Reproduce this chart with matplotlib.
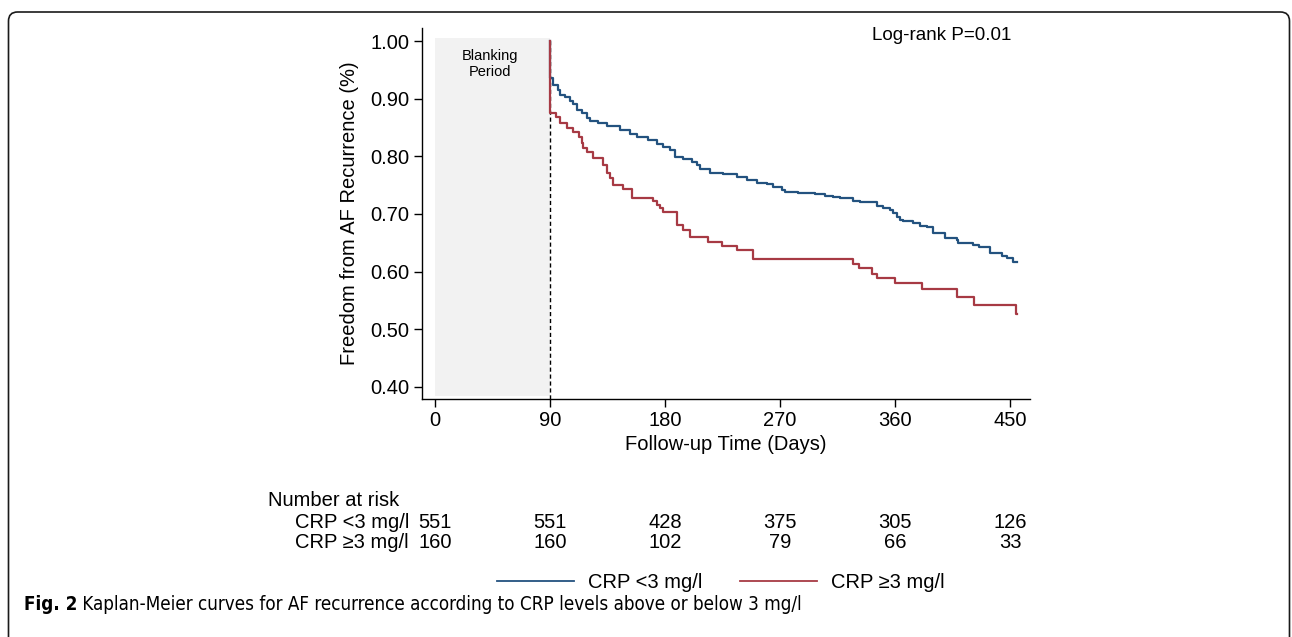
import matplotlib
matplotlib.use("Agg")
import matplotlib.pyplot as plt
from matplotlib.patches import FancyBboxPatch
from matplotlib.lines import Line2D
import matplotlib.transforms as mtransforms

plt.rcParams['font.family'] = ['Liberation Sans', 'DejaVu Sans']

# Kaplan-Meier steps (days, survival)
low_days = [90, 90, 92.3, 96.2, 97.8, 101.7, 105.6, 108, 111, 115, 119, 121, 127.5,
            134.6, 144.8, 152.6, 158, 166.7, 173.7, 178.4, 184, 187.8, 194, 201, 205,
            207.4, 215, 225.4, 236.3, 244, 252, 259.8, 264.5, 271.5, 273.9, 284, 297.3,
            305, 311.4, 317, 327, 332.6, 345.8, 350.5, 356, 358.4, 361.5, 363.8, 366.2,
            374, 379.5, 385, 389.7, 399, 408.5, 409.2, 421, 425.7, 434.3, 443.7, 447.6,
            452.3, 455.4]
low_surv = [1.0, 0.936, 0.924, 0.915, 0.907, 0.904, 0.897, 0.891, 0.881, 0.875, 0.867,
            0.862, 0.858, 0.853, 0.846, 0.839, 0.833, 0.829, 0.822, 0.817, 0.811, 0.799,
            0.795, 0.791, 0.785, 0.778, 0.772, 0.769, 0.765, 0.759, 0.754, 0.752, 0.747,
            0.741, 0.739, 0.737, 0.734, 0.731, 0.729, 0.727, 0.722, 0.720, 0.714, 0.711,
            0.707, 0.702, 0.695, 0.690, 0.687, 0.684, 0.679, 0.677, 0.667, 0.659, 0.655,
            0.650, 0.646, 0.642, 0.633, 0.627, 0.623, 0.617, 0.617]

high_days = [90, 90, 94.7, 97.8, 103.3, 108, 112.7, 115, 115.8, 119, 123.6, 131.5, 134.6,
             137, 139.3, 147, 154, 170.6, 173.7, 176, 178.4, 189.4, 194, 199.5, 213.6,
             224.6, 236.3, 248.8, 327, 331.8, 342, 345.8, 360, 381, 408.5, 421.8, 454.6,
             455.4]
high_surv = [1.0, 0.875, 0.868, 0.858, 0.849, 0.842, 0.834, 0.823, 0.815, 0.808, 0.797,
             0.785, 0.771, 0.762, 0.750, 0.743, 0.728, 0.722, 0.716, 0.710, 0.704, 0.681,
             0.672, 0.660, 0.651, 0.644, 0.637, 0.622, 0.613, 0.606, 0.596, 0.589, 0.580,
             0.570, 0.556, 0.542, 0.526, 0.526]

risk_days = [0, 90, 180, 270, 360, 450]
risk_low = [551, 551, 428, 375, 305, 126]
risk_high = [160, 160, 102, 79, 66, 33]

group_labels = ["CRP <3 mg/l", "CRP \u22653 mg/l"]
y_ticks = [0.40, 0.50, 0.60, 0.70, 0.80, 0.90, 1.00]

BLUE = '#23527f'
RED = '#a73a44'
FS = 14.5

fig = plt.figure(figsize=(12.92, 6.37), dpi=100)
ax = fig.add_axes([422 / 1292, 1 - 399 / 637, (1030 - 422) / 1292, (399 - 28) / 637])

# blanking period
ax.fill_between([0, 90], 0.383, 1.005, color='#f2f2f2', lw=0, zorder=0)
ax.plot([90, 90], [0.379, 1.005], color='black', lw=1.0, ls=(0, (3, 2)), zorder=1)
ax.text(43, 0.961, "Blanking\nPeriod", ha='center', va='center', fontsize=10.5,
        linespacing=1.15)

ax.step(low_days, low_surv, where='post', color=BLUE, lw=1.6, zorder=3)
ax.step(high_days, high_surv, where='post', color=RED, lw=1.6, zorder=3)

ax.text(0.855, 0.98, "Log-rank P=0.01", transform=ax.transAxes, ha='center',
        va='center', fontsize=13.5)

ax.set_xlim(-10.2, 465.6)
ax.set_ylim(0.3786, 1.0231)
ax.set_xticks(risk_days)
ax.set_yticks(y_ticks)
ax.set_yticklabels([f"{v:.2f}" for v in y_ticks])
ax.tick_params(axis='both', direction='out', length=6, width=1, labelsize=FS, pad=3)
ax.spines['top'].set_visible(False)
ax.spines['right'].set_visible(False)
for s in ('left', 'bottom'):
    ax.spines[s].set_linewidth(1.0)
ax.set_xlabel("Follow-up Time (Days)", fontsize=FS, labelpad=3)
ax.set_ylabel("Freedom from AF Recurrence (%)", fontsize=FS, labelpad=8)

# number at risk table
trans = mtransforms.blended_transform_factory(ax.transData, fig.transFigure)
fig.text(268 / 1292, 1 - 501 / 637, "Number at risk", ha='left', va='center', fontsize=FS)
for row_y, lab, vals in [(523, group_labels[0], risk_low), (543, group_labels[1], risk_high)]:
    fig.text(409 / 1292, 1 - row_y / 637, lab, ha='right', va='center', fontsize=FS)
    for d, v in zip(risk_days, vals):
        ax.text(d, 1 - row_y / 637, str(v), transform=trans, ha='center', va='center',
                fontsize=FS, clip_on=False)

handles = [Line2D([], [], color=BLUE, lw=1.3), Line2D([], [], color=RED, lw=1.3)]
fig.legend(handles, group_labels, loc='center', bbox_to_anchor=(721 / 1292, 1 - 583 / 637),
           ncol=2, frameon=False, fontsize=FS, handlelength=3.83, handletextpad=0.7,
           columnspacing=1.85)

# caption
cap_font = dict(family='DejaVu Sans', fontstretch='condensed')
cap = fig.text(24 / 1292, 1 - 604 / 637, "Fig. 2", ha='left', va='center', fontsize=13.5,
               fontweight='bold', **cap_font)
ax.annotate(" Kaplan-Meier curves for AF recurrence according to CRP levels above or below 3 mg/l",
            xy=(1, 0), xycoords=cap, ha='left', va='bottom', fontsize=13.5,
            annotation_clip=False, **cap_font)

# outer frame
frame = FancyBboxPatch((8.5 / 1292, -0.05), (1289.5 - 8.5) / 1292, 1 - 12 / 637 + 0.05,
                       boxstyle="round,pad=0,rounding_size=0.007", transform=fig.transFigure,
                       fill=False, ec='#1a1a1a', lw=1.2, mutation_aspect=1292 / 637)
fig.patches.append(frame)

fig.savefig("out.png", dpi=100)
